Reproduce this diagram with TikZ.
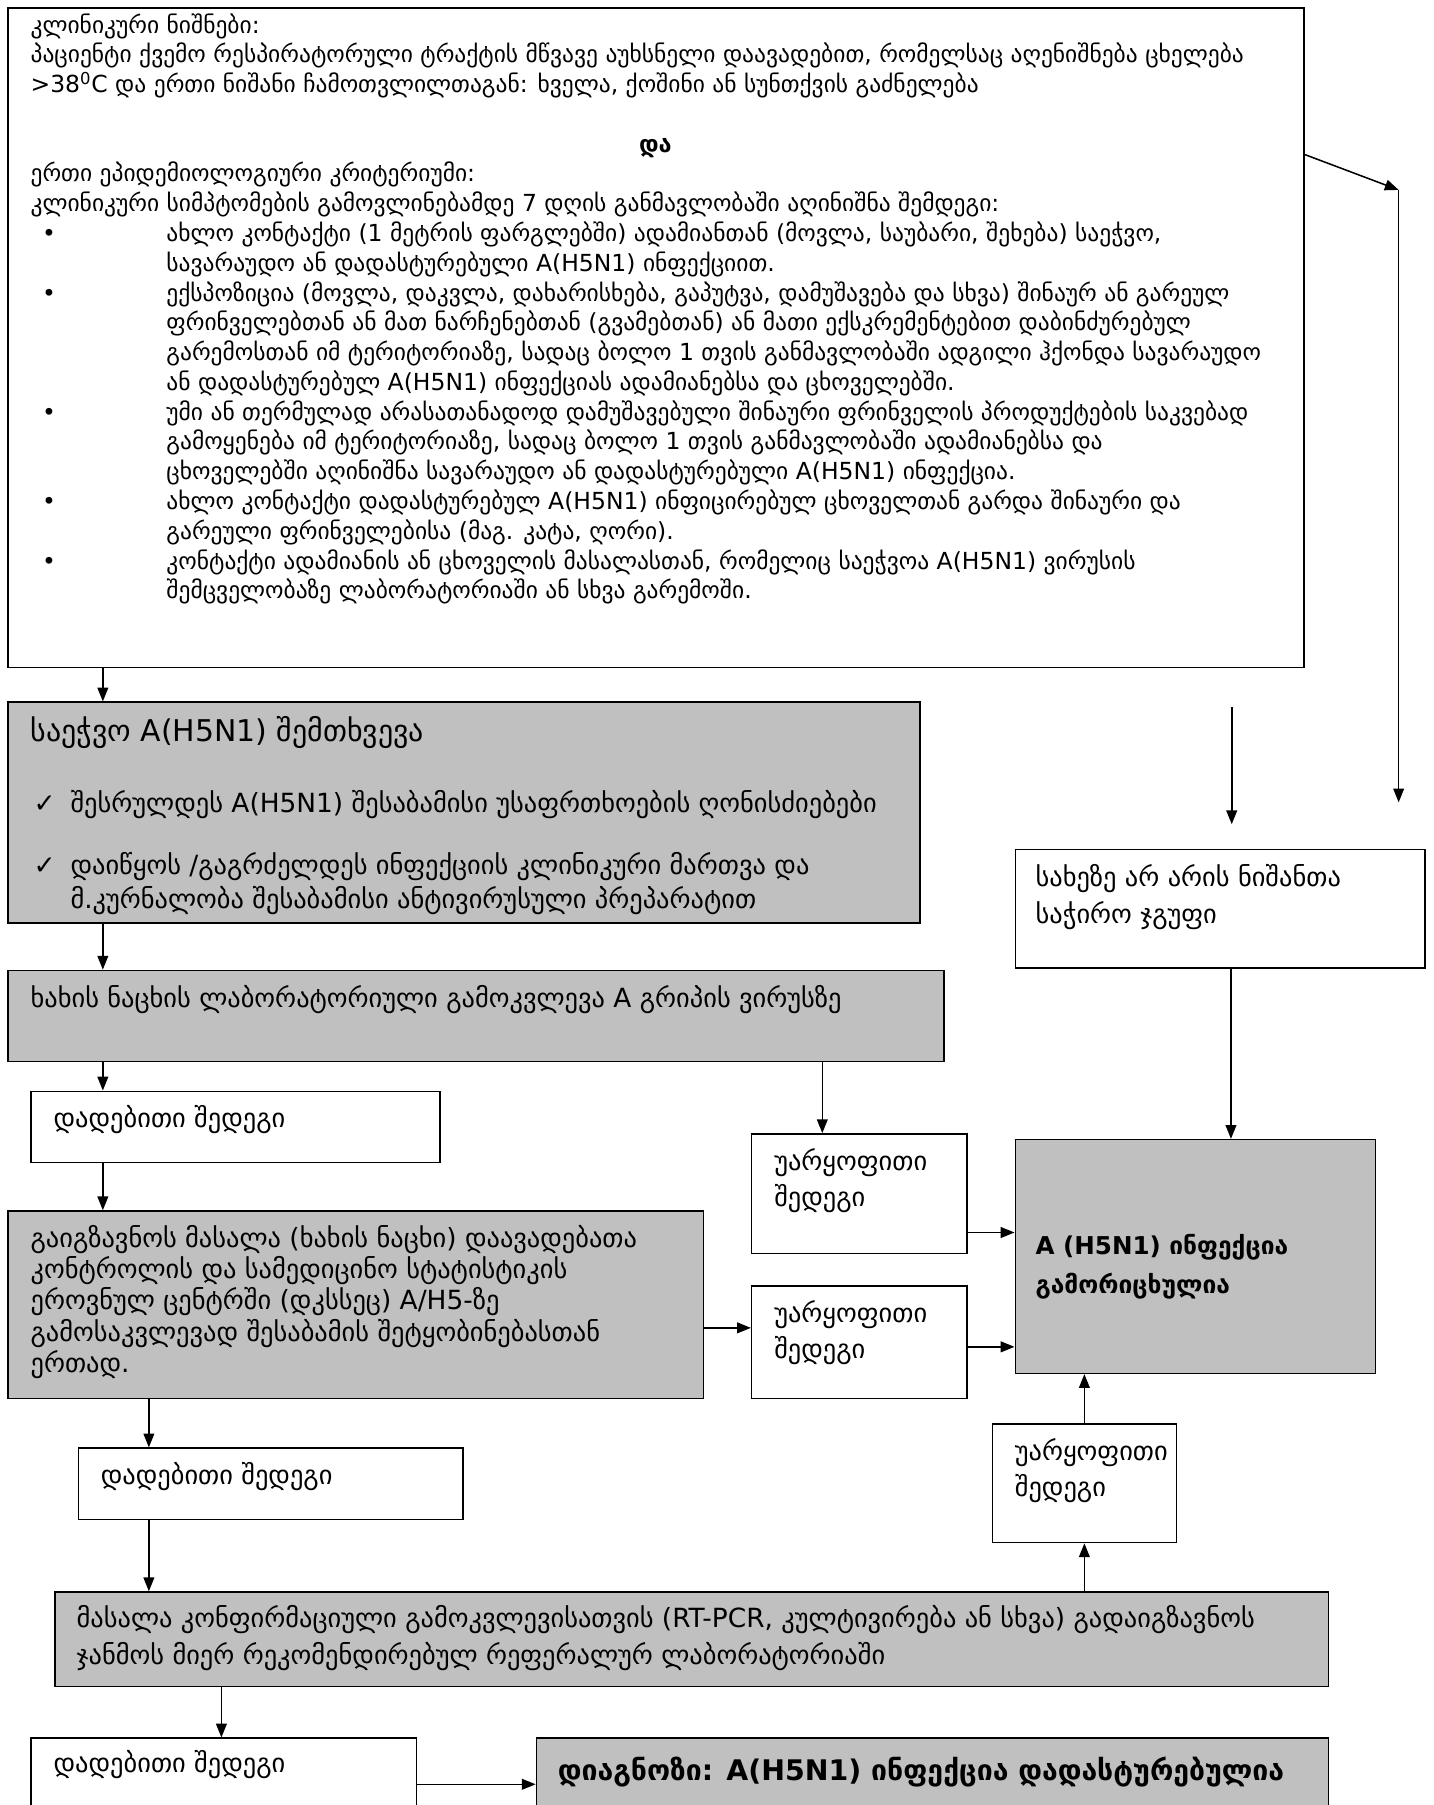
\documentclass[tikz,border=0pt]{standalone}
\usepackage{fontspec}
\setmainfont{DejaVu Sans}
\usetikzlibrary{arrows.meta,fit,positioning}
\definecolor{boxgray}{RGB}{192,192,192}
\newcommand{\smalltxt}{\fontsize{15.3}{19.4}\selectfont}
\newcommand{\normtxt}{\fontsize{17.2}{20.3}\selectfont}
\newcommand{\bul}{\hspace*{7.5pt}\makebox[81pt][l]{•}}
\newcommand{\bpad}{\hspace*{88.5pt}}
\newcommand{\chk}{\hspace*{2pt}\makebox[24pt][l]{✓}}
\tikzset{
  box/.style={draw, line width=1pt, inner sep=0pt},
  greybox/.style={box, fill=boxgray},
  txt/.style={anchor=north west, inner sep=0pt, align=left, font=\normtxt},
  arr/.style={-{Triangle[length=9pt,width=7pt]}, line width=1pt},
}
\begin{document}
\begin{tikzpicture}[x=0.75pt,y=-0.75pt]
\useasboundingbox (0,0) rectangle (1245,1568);

% boxes
\node[box, fit={(7,7) (1133,580)}] (clin) {};
\node[greybox, fit={(7,610) (799,802)}] (susp) {};
\node[greybox, fit={(7,843) (820,922)}] (swab) {};
\node[box, fit={(27,948) (382,1010)}] (pos1) {};
\node[box, fit={(653,985) (840,1089)}] (neg1) {};
\node[greybox, fit={(7,1052) (611,1215)}] (send) {};
\node[box, fit={(653,1117) (840,1215)}] (neg2) {};
\node[box, fit={(882,738) (1238,841)}] (nosign) {};
\node[greybox, fit={(882,990) (1195,1193)}] (excl) {};
\node[box, fit={(68,1258) (402,1320)}] (pos2) {};
\node[box, fit={(862,1237) (1022,1340)}] (neg3) {};
\node[greybox, fit={(48,1383) (1154,1465)}] (conf) {};
\node[box, fit={(27,1510) (362,1590)}] (pos3) {};
\node[greybox, fit={(466,1510) (1154,1600)}] (diag) {};

% texts
\node[txt, font=\smalltxt] at ([shift={(20,5)}]clin.north west) {%
კლინიკური ნიშნები:\\
პაციენტი ქვემო რესპირატორული ტრაქტის მწვავე აუხსნელი დაავადებით, რომელსაც აღენიშნება ცხელება\\
>38\textsuperscript{0}C და ერთი ნიშანი ჩამოთვლილთაგან: ხველა, ქოშინი ან სუნთქვის გაძნელება\\[19.4pt]
\makebox[814pt]{\bfseries და}\\
ერთი ეპიდემიოლოგიური კრიტერიუმი:\\
კლინიკური სიმპტომების გამოვლინებამდე 7 დღის განმავლობაში აღინიშნა შემდეგი:\\
\bul ახლო კონტაქტი (1 მეტრის ფარგლებში) ადამიანთან (მოვლა, საუბარი, შეხება) საეჭვო,\\
\bpad სავარაუდო ან დადასტურებული A(H5N1) ინფექციით.\\
\bul ექსპოზიცია (მოვლა, დაკვლა, დახარისხება, გაპუტვა, დამუშავება და სხვა) შინაურ ან გარეულ\\
\bpad ფრინველებთან ან მათ ნარჩენებთან (გვამებთან) ან მათი ექსკრემენტებით დაბინძურებულ\\
\bpad გარემოსთან იმ ტერიტორიაზე, სადაც ბოლო 1 თვის განმავლობაში ადგილი ჰქონდა სავარაუდო\\
\bpad ან დადასტურებულ A(H5N1) ინფექციას ადამიანებსა და ცხოველებში.\\
\bul უმი ან თერმულად არასათანადოდ დამუშავებული შინაური ფრინველის პროდუქტების საკვებად\\
\bpad გამოყენება იმ ტერიტორიაზე, სადაც  ბოლო 1 თვის განმავლობაში ადამიანებსა და\\
\bpad ცხოველებში აღინიშნა სავარაუდო ან დადასტურებული A(H5N1) ინფექცია.\\
\bul ახლო კონტაქტი დადასტურებულ A(H5N1) ინფიცირებულ ცხოველთან გარდა შინაური და\\
\bpad გარეული ფრინველებისა (მაგ. კატა, ღორი).\\
\bul კონტაქტი ადამიანის ან ცხოველის მასალასთან, რომელიც საეჭვოა A(H5N1) ვირუსის\\
\bpad შემცველობაზე ლაბორატორიაში ან სხვა გარემოში.};

\node[txt] at ([shift={(20,13)}]susp.north west) {%
{\fontsize{19.5}{20.3}\selectfont საეჭვო A(H5N1) შემთხვევა}\\[26pt]
\chk შესრულდეს A(H5N1) შესაბამისი უსაფრთხოების ღონისძიებები\\[20pt]
\chk დაიწყოს /გაგრძელდეს ინფექციის კლინიკური მართვა და\\[2pt]
\hspace*{26pt}მ.კურნალობა შესაბამისი ანტივირუსული პრეპარატით};

\node[txt] at ([shift={(20,13)}]swab.north west) {%
ხახის ნაცხის ლაბორატორიული გამოკვლევა A გრიპის ვირუსზე};

\node[txt] at ([shift={(20,13)}]pos1.north west) {დადებითი შედეგი};
\node[txt] at ([shift={(20,13)}]pos2.north west) {დადებითი შედეგი};
\node[txt] at ([shift={(20,11)}]pos3.north west) {დადებითი შედეგი};

\node[txt] at ([shift={(20,13)}]neg1.north west) {უარყოფითი\\[3pt]შედეგი};
\node[txt] at ([shift={(20,13)}]neg2.north west) {უარყოფითი\\[3pt]შედეგი};
\node[txt] at ([shift={(20,13)}]neg3.north west) {უარყოფითი\\[3pt]შედეგი};

\node[txt] at ([shift={(20,13)}]send.north west) {%
გაიგზავნოს მასალა (ხახის ნაცხი) დაავადებათა\\
კონტროლის და სამედიცინო სტატისტიკის\\
ეროვნულ ცენტრში (დკსსეც) A/H5-ზე\\
გამოსაკვლევად შესაბამის შეტყობინებასთან\\
ერთად.};

\node[txt] at ([shift={(18,13)}]nosign.north west) {%
სახეზე არ არის ნიშანთა\\[4pt]
საჭირო ჯგუფი};

\node[txt, font=\fontsize{16}{23}\selectfont\bfseries] at ([shift={(18,83)}]excl.north west) {%
A (H5N1) ინფექცია\\[2pt]
გამორიცხულია};

\node[txt] at ([shift={(19,12)}]conf.north west) {%
მასალა კონფირმაციული გამოკვლევისათვის (RT-PCR, კულტივირება ან სხვა) გადაიგზავნოს\\[4pt]
ჯანმოს მიერ რეკომენდირებულ რეფერალურ ლაბორატორიაში};

\node[txt, font=\fontsize{18.5}{23}\selectfont\bfseries] at ([shift={(19,17)}]diag.north west) {%
დიაგნოზი: A(H5N1) ინფექცია  დადასტურებულია};

% free arrow ends
\coordinate (r1) at (1215,165);
\coordinate (r2) at (1215,697);
\coordinate (m1) at (1070,614);
\coordinate (m2) at (1070,716);

% connectors
\draw[arr] ([shift={(83,0)}]clin.south west) -- ([shift={(83,0)}]susp.north west);
\draw[arr] ([shift={(83,0)}]susp.south west) -- ([shift={(83,0)}]swab.north west);
\draw[arr] ([shift={(83,0)}]swab.south west) coordinate (a1) -- (a1 |- pos1.north);
\draw[arr] ([shift={(708,0)}]swab.south west) coordinate (a2) -- (a2 |- neg1.north);
\draw[arr] ([shift={(63,0)}]pos1.south west) coordinate (a3) -- (a3 |- send.north);
\draw[arr] ([shift={(0,20)}]send.east) coordinate (a4) -- (a4 -| neg2.west);
\draw[arr] ([shift={(0,-19)}]neg1.south east) coordinate (a5) -- (a5 -| excl.west);
\draw[arr] ([shift={(0,4)}]neg2.east) coordinate (a6) -- (a6 -| excl.west);
\draw[arr] ([shift={(0,128)}]clin.north east) -- (r1);
\draw[arr] (r1) -- (r2);
\draw[arr] (m1) -- (m2);
\draw[arr] ([shift={(188,0)}]nosign.south west) coordinate (a7) -- (a7 |- excl.north);
\draw[arr] ([shift={(123,0)}]send.south west) coordinate (a8) -- (a8 |- pos2.north);
\draw[arr] ([shift={(62,0)}]pos2.south west) coordinate (a9) -- (a9 |- conf.north);
\draw[arr] (conf.north -| neg3.south) -- (neg3.south);
\draw[arr] (neg3.north) -- (neg3.north |- excl.south);
\draw[arr] ([shift={(145,0)}]conf.south west) coordinate (a10) -- (a10 |- pos3.north);
\draw[arr] (pos3.east) coordinate (a11) -- (a11 -| diag.west);
\end{tikzpicture}
\end{document}
